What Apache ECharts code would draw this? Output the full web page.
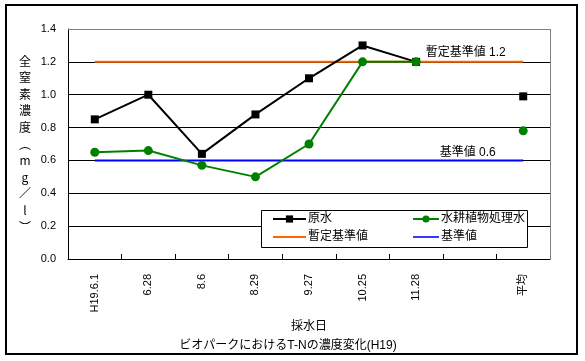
<!DOCTYPE html>
<html><head><meta charset="utf-8">
<script src="https://cdn.jsdelivr.net/npm/echarts@6/dist/echarts.min.js"></script>
<style>html,body{margin:0;padding:0;background:#fff}#c{width:585px;height:361px}</style>
</head><body><div id="c"></div>
<script>
const categories = ['H19.6.1', '6.28', '8.6', '8.29', '9.27', '10.25', '11.28', '', '平均'];
const rawWater = [0.85, 1.00, 0.64, 0.88, 1.10, 1.30, 1.20, null, 0.99];
const treatedWater = [0.65, 0.66, 0.57, 0.50, 0.70, 1.20, 1.20, null, 0.78];
const provisionalStd = [1.2, 1.2, 1.2, 1.2, 1.2, 1.2, 1.2, 1.2, 1.2];
const standard = [0.6, 0.6, 0.6, 0.6, 0.6, 0.6, 0.6, 0.6, 0.6];
const yTicks = [0, 0.2, 0.4, 0.6, 0.8, 1.0, 1.2, 1.4];
const yNameChars = ['全', '窒', '素', '濃', '度', '︵', 'm', 'g', '／', 'l', '︶'];
const FONT = 'Liberation Sans, Noto Sans CJK JP, sans-serif';
const CJK = 'Noto Sans CJK JP, sans-serif';
const LINE_ICON = 'path://M0,0H33V2H0Z';

const chart = echarts.init(document.getElementById('c'), null, {renderer: 'canvas'});
chart.setOption({
  animation: false,
  backgroundColor: '#fff',
  textStyle: {fontFamily: FONT, color: '#000'},
  title: {
    text: 'ビオパークにおけるT-Nの濃度変化(H19)',
    left: 283, top: 335, textAlign: 'center',
    textStyle: {fontSize: 12, fontWeight: 'normal', color: '#000', fontFamily: FONT}
  },
  grid: {left: 68, top: 29, right: 35, bottom: 102, show: false},
  legend: [
    {
      left: 267, top: 208, orient: 'vertical', itemGap: 6, itemWidth: 33, itemHeight: 9,
      data: ['原水', {name: '暫定基準値', icon: LINE_ICON}],
      textStyle: {fontSize: 12, color: '#000', fontFamily: FONT, padding: [0, 0, 0, -3]},
      z: 20
    },
    {
      left: 407, top: 208, orient: 'vertical', itemGap: 6, itemWidth: 26, itemHeight: 9,
      data: ['水耕植物処理水', {name: '基準値', icon: LINE_ICON}],
      textStyle: {fontSize: 12, color: '#000', fontFamily: FONT, padding: [0, 0, 0, -3]},
      z: 20
    }
  ],
  xAxis: {
    type: 'category',
    data: categories,
    boundaryGap: true,
    name: '採水日', nameLocation: 'middle', nameGap: 48,
    nameTextStyle: {fontSize: 12, color: '#000', fontFamily: FONT},
    axisLine: {lineStyle: {color: '#000', width: 1}},
    axisTick: {show: true, inside: true, length: 5, alignWithLabel: false, lineStyle: {color: '#000'}},
    axisLabel: {rotate: 90, interval: 0, margin: 15, fontSize: 11, color: '#000', fontFamily: FONT},
    splitLine: {show: false}
  },
  yAxis: {
    type: 'value', min: 0, max: 1.4, interval: 0.2,
    name: yNameChars.join('\n'), nameLocation: 'middle', nameGap: 43, nameRotate: 0,
    nameTextStyle: {fontSize: 12, lineHeight: 16.6, color: '#000', fontFamily: CJK, align: 'center', verticalAlign: 'middle'},
    axisLine: {show: true, lineStyle: {color: '#000', width: 1}},
    axisTick: {show: false},
    axisLabel: {margin: 12, fontSize: 11, color: '#000', fontFamily: FONT,
      formatter: v => yTicks.indexOf(Math.round(v * 10) / 10) >= 0 ? v.toFixed(1) : ''},
    splitLine: {show: true, lineStyle: {color: '#000', width: 1}}
  },
  series: [
    {
      name: '暫定基準値', type: 'line', data: provisionalStd, symbol: 'none',
      lineStyle: {color: '#FF6600', width: 2}, itemStyle: {color: '#FF6600'}, z: 2,
      markPoint: {
        symbol: 'circle', symbolSize: 1, itemStyle: {color: 'rgba(0,0,0,0)'}, silent: true,
        label: {show: true, position: 'top', distance: 3, fontSize: 12, color: '#000', fontFamily: FONT, formatter: '暫定基準値 1.2', offset: [-4, 0]},
        data: [{coord: [7, provisionalStd[7]]}]
      }
    },
    {
      name: '基準値', type: 'line', data: standard, symbol: 'none',
      lineStyle: {color: '#0000FF', width: 2}, itemStyle: {color: '#0000FF'}, z: 2,
      markPoint: {
        symbol: 'circle', symbolSize: 1, itemStyle: {color: 'rgba(0,0,0,0)'}, silent: true,
        label: {show: true, position: 'top', distance: 1, fontSize: 12, color: '#000', fontFamily: FONT, formatter: '基準値 0.6', offset: [-2, 0]},
        data: [{coord: [7, standard[7]]}]
      }
    },
    {
      name: '原水', type: 'line', data: rawWater, connectNulls: false,
      symbol: 'rect', symbolSize: 8, showAllSymbol: true,
      lineStyle: {color: '#000', width: 2}, itemStyle: {color: '#000'}, z: 4
    },
    {
      name: '水耕植物処理水', type: 'line', data: treatedWater, connectNulls: false,
      symbol: 'circle', symbolSize: 9, showAllSymbol: true,
      lineStyle: {color: '#008000', width: 2}, itemStyle: {color: '#008000'}, z: 5
    }
  ],
  graphic: [
    {type: 'rect', shape: {x: 6, y: 5, width: 571, height: 349}, style: {fill: null, stroke: '#000', lineWidth: 2}, z: 1, silent: true},
    {type: 'line', shape: {x1: 68, y1: 29.5, x2: 550.5, y2: 29.5}, style: {stroke: '#808080', lineWidth: 1}, z: 3, silent: true},
    {type: 'line', shape: {x1: 550.5, y1: 29, x2: 550.5, y2: 259}, style: {stroke: '#808080', lineWidth: 1}, z: 3, silent: true},
    {type: 'rect', shape: {x: 261.5, y: 210.5, width: 266, height: 37}, style: {fill: '#fff', stroke: '#000', lineWidth: 1}, z: 10, silent: true}
  ]
});
</script></body></html>
